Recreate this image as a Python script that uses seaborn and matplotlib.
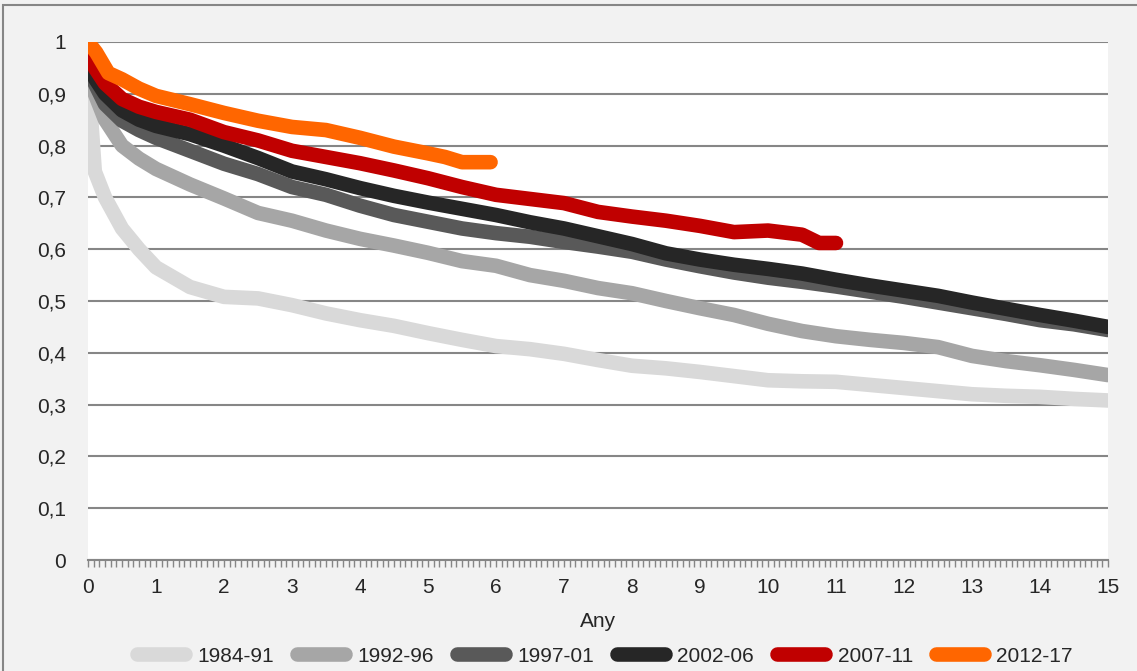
import numpy as np
import pandas as pd
import matplotlib
matplotlib.use("Agg")
import matplotlib.pyplot as plt
import seaborn as sns
from matplotlib.patches import Rectangle
from matplotlib.ticker import MultipleLocator, FuncFormatter

# survival curves per period (x = years, y = share)
periods = ["1984-91", "1992-96", "1997-01", "2002-06", "2007-11", "2012-17"]
colors = ["#d9d9d9", "#a6a6a6", "#595959", "#262626", "#c00000", "#ff6600"]

years_full = [0, 0.1, 0.25, 0.5, 0.75, 1, 1.5, 2, 2.5, 3, 3.5, 4, 4.5, 5, 5.5, 6, 6.5,
              7, 7.5, 8, 8.5, 9, 9.5, 10, 10.5, 11, 11.5, 12, 12.5, 13, 13.5, 14, 14.5, 15]

v_1984 = [0.94, 0.75, 0.70, 0.64, 0.60, 0.565, 0.527, 0.508, 0.505, 0.492, 0.476, 0.463,
          0.452, 0.438, 0.425, 0.413, 0.407, 0.398, 0.386, 0.375, 0.370, 0.363, 0.355,
          0.347, 0.345, 0.344, 0.338, 0.332, 0.326, 0.320, 0.317, 0.315, 0.311, 0.308]
v_1992 = [0.96, 0.90, 0.85, 0.80, 0.775, 0.755, 0.725, 0.698, 0.670, 0.655, 0.636, 0.620,
          0.607, 0.593, 0.577, 0.568, 0.550, 0.539, 0.525, 0.515, 0.500, 0.486, 0.473,
          0.456, 0.442, 0.432, 0.425, 0.419, 0.411, 0.394, 0.384, 0.376, 0.367, 0.357]
v_1997 = [0.97, 0.92, 0.88, 0.848, 0.83, 0.815, 0.79, 0.765, 0.745, 0.72, 0.705, 0.684,
          0.666, 0.653, 0.640, 0.631, 0.624, 0.614, 0.605, 0.595, 0.580, 0.567, 0.555,
          0.545, 0.537, 0.528, 0.518, 0.508, 0.497, 0.486, 0.475, 0.463, 0.455, 0.444]
v_2002 = [0.975, 0.93, 0.90, 0.868, 0.85, 0.838, 0.822, 0.80, 0.776, 0.75, 0.735, 0.718,
          0.703, 0.690, 0.678, 0.666, 0.652, 0.640, 0.625, 0.610, 0.592, 0.580, 0.570,
          0.562, 0.553, 0.541, 0.530, 0.520, 0.510, 0.497, 0.485, 0.473, 0.462, 0.450]

years_2007 = [0, 0.1, 0.25, 0.5, 0.75, 1, 1.5, 2, 2.5, 3, 3.5, 4, 4.5, 5, 5.5, 6, 6.5,
              7, 7.5, 8, 8.5, 9, 9.5, 10, 10.5, 10.75, 11]
v_2007 = [1.0, 0.95, 0.92, 0.89, 0.875, 0.865, 0.85, 0.826, 0.81, 0.79, 0.778, 0.766,
          0.752, 0.737, 0.720, 0.705, 0.697, 0.689, 0.672, 0.663, 0.655, 0.645, 0.633,
          0.636, 0.628, 0.612, 0.612]

years_2012 = [0, 0.12, 0.3, 0.5, 0.75, 1, 1.5, 2, 2.5, 3, 3.5, 4, 4.5, 5, 5.25, 5.5, 5.92]
v_2012 = [1.0, 0.98, 0.94, 0.928, 0.91, 0.896, 0.88, 0.863, 0.848, 0.836, 0.83, 0.815,
          0.798, 0.785, 0.778, 0.768, 0.768]

series = [(years_full, v_1984), (years_full, v_1992), (years_full, v_1997),
          (years_full, v_2002), (years_2007, v_2007), (years_2012, v_2012)]

df = pd.concat([pd.DataFrame({"Any": x, "valor": y, "periode": p})
                for p, (x, y) in zip(periods, series)], ignore_index=True)

sns.set_style("white")
plt.rcParams["font.family"] = ["Liberation Sans", "DejaVu Sans"]

fig = plt.figure(figsize=(11.37, 6.71), dpi=100, facecolor="#f2f2f2")
ax = fig.add_axes([88 / 1137, 1 - 560 / 671, (1108 - 88) / 1137, (560 - 42) / 671])
ax.set_facecolor("white")

sns.lineplot(data=df, x="Any", y="valor", hue="periode", hue_order=periods,
             palette=dict(zip(periods, colors)), linewidth=10.5, legend=False,
             estimator=None, sort=True, ax=ax)
for ln in ax.lines:
    ln.set_solid_capstyle("round")
    ln.set_solid_joinstyle("round")

ax.set_xlim(0, 15)
ax.set_ylim(0, 1)
ax.xaxis.set_major_locator(MultipleLocator(1))
ax.xaxis.set_minor_locator(MultipleLocator(1 / 12))
ax.yaxis.set_major_locator(MultipleLocator(0.1))
ax.yaxis.set_major_formatter(FuncFormatter(
    lambda v, _: f"{v:.1f}".replace(".", ",").replace("0,0", "0").replace("1,0", "1")))

ax.grid(axis="y", color="#868686", linewidth=1.5)
ax.set_axisbelow(True)
for s in ["left", "right", "top"]:
    ax.spines[s].set_visible(False)
ax.spines["bottom"].set_color("#868686")
ax.spines["bottom"].set_linewidth(1.5)

ax.tick_params(axis="x", which="both", bottom=True, direction="out", length=5, width=1,
               color="#868686")
ax.tick_params(axis="x", which="major", labelsize=15, pad=8)
ax.tick_params(axis="y", left=False, length=0, labelsize=15, pad=16)
ax.set_xlabel("Any", fontsize=15, labelpad=11)
ax.set_ylabel("")

handles = [plt.Line2D([], [], color=c, lw=10.5, solid_capstyle="round") for c in colors]
fig.legend(handles, periods, loc="center", bbox_to_anchor=(0.532, 1 - 656 / 671), ncol=6,
           frameon=False, fontsize=15, handlelength=2.3, handletextpad=0.6, columnspacing=1.1)

fig.patches.append(Rectangle((3 / 1137, -0.1), 1.2, 1.1 - 5 / 671, transform=fig.transFigure,
                             fill=False, edgecolor="#868686", linewidth=1.5))

fig.savefig("out.png", dpi=100, facecolor=fig.get_facecolor())
